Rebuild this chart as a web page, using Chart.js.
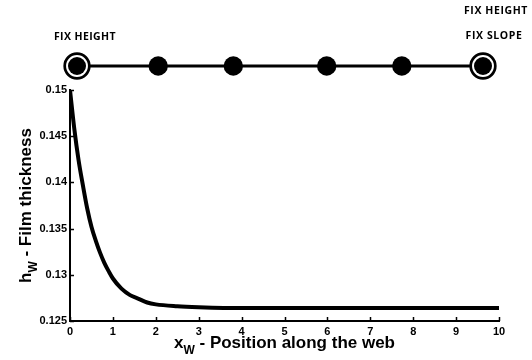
<!DOCTYPE html>
<html>
<head>
<meta charset="utf-8">
<script src="https://cdn.jsdelivr.net/npm/chart.js@4.4.1/dist/chart.umd.min.js"></script>
<style>
    body { margin: 0; background: #fff; }
    #wrap { position: relative; width: 532px; height: 360px; }
    #wrap canvas { position: absolute; left: 0; top: 0; }
</style>
</head>
<body>
<div id="wrap">
    <canvas id="filmChart" width="532" height="360"></canvas>
    <canvas id="gridChart" width="532" height="90"></canvas>
</div>
<script>
// film profile along the web
const posX = [0, 0.1, 0.2, 0.3, 0.4, 0.5, 0.6, 0.7, 0.8, 0.9, 1.0, 1.2, 1.4, 1.6, 1.8, 2.0, 2.5, 3.0, 4.0, 5.0, 6.0, 7.0, 8.0, 9.0, 10.0];
const thickness = [0.1500, 0.1458, 0.1424, 0.1397, 0.1372, 0.1352, 0.1337, 0.1324, 0.1313, 0.1304, 0.1296, 0.1285, 0.1278, 0.1274, 0.1270, 0.1268, 0.1266, 0.1265, 0.1264, 0.1264, 0.1264, 0.1264, 0.1264, 0.1264, 0.1264];

const xTicks = [0, 1, 2, 3, 4, 5, 6, 7, 8, 9, 10];
const xTickLabels = ["0", "1", "2", "3", "4", "5", "6", "7", "8", "9", "10"];
const yTicks = [0.125, 0.13, 0.135, 0.14, 0.145, 0.15];
const yTickLabels = ["0.125", "0.13", "0.135", "0.14", "0.145", "0.15"];

// collocation nodes of the schematic above the plot
const nodeX = [0, 2, 3.85, 6.15, 8, 10];
const fixedNodes = [0, 10];
const leftLabels = ["FIX HEIGHT"];
const rightLabels = ["FIX HEIGHT", "FIX SLOPE"];

const tickFont = { family: "'Liberation Sans', Arial, sans-serif", size: 11, weight: "bold" };
const titleFamily = "'Liberation Sans', Arial, sans-serif";

// text with a subscript, e.g. h_W
function drawSubText(ctx, parts, cx, cy) {
    let total = 0;
    parts.forEach(p => {
        ctx.font = "bold " + p.size + "px " + titleFamily;
        p.w = ctx.measureText(p.text).width;
        total += p.w;
    });
    let x = cx - total / 2;
    ctx.textAlign = "left";
    ctx.textBaseline = "alphabetic";
    parts.forEach(p => {
        ctx.font = "bold " + p.size + "px " + titleFamily;
        ctx.fillText(p.text, x, cy + (p.dy || 0));
        x += p.w;
    });
}

// inward tick marks and the axis titles
const axisExtras = {
    id: "axisExtras",
    afterDraw(chart) {
        let ctx = chart.ctx;
        let xs = chart.scales.x, ys = chart.scales.y;
        let area = chart.chartArea;
        ctx.save();
        ctx.strokeStyle = "#000";
        ctx.lineWidth = 1.5;
        ctx.beginPath();
        xs.ticks.forEach(t => {
            let px = Math.round(xs.getPixelForValue(t.value)) + 0.5;
            ctx.moveTo(px, area.bottom);
            ctx.lineTo(px, area.bottom - 4);
        });
        ys.ticks.forEach(t => {
            let py = Math.round(ys.getPixelForValue(t.value)) + 0.5;
            ctx.moveTo(area.left, py);
            ctx.lineTo(area.left + 4, py);
        });
        ctx.stroke();

        ctx.fillStyle = "#000";
        let cx = (area.left + area.right) / 2;
        drawSubText(ctx, [
            { text: "x", size: 17 },
            { text: "W", size: 12, dy: 6 },
            { text: " - Position along the web", size: 17 }
        ], cx, 348);

        let cy = (area.top + area.bottom) / 2;
        ctx.translate(31, cy);
        ctx.rotate(-Math.PI / 2);
        drawSubText(ctx, [
            { text: "h", size: 17 },
            { text: "W", size: 12, dy: 6 },
            { text: " - Film thickness", size: 17 }
        ], 0, 0);
        ctx.restore();
    }
};

new Chart(document.getElementById("filmChart"), {
    type: "line",
    data: {
        datasets: [{
            data: posX.map((x, i) => ({ x: x, y: thickness[i] })),
            borderColor: "#000",
            borderWidth: 4,
            pointRadius: 0,
            cubicInterpolationMode: "monotone",
            fill: false
        }]
    },
    options: {
        responsive: false,
        animation: false,
        layout: { autoPadding: false, padding: { top: 90, right: 33, left: 0, bottom: 0 } },
        plugins: { legend: { display: false }, tooltip: { enabled: false } },
        scales: {
            x: {
                type: "linear",
                min: 0,
                max: 10,
                afterBuildTicks: s => { s.ticks = xTicks.map(v => ({ value: v })); },
                afterFit: s => { s.height = 39; },
                ticks: {
                    color: "#000",
                    font: tickFont,
                    padding: 4,
                    maxRotation: 0,
                    autoSkip: false,
                    callback: (v, i) => xTickLabels[i]
                },
                grid: { display: false, drawTicks: false },
                border: { color: "#000", width: 2 }
            },
            y: {
                type: "linear",
                min: 0.125,
                max: 0.15,
                afterBuildTicks: s => { s.ticks = yTicks.map(v => ({ value: v })); },
                afterFit: s => { s.width = 70; },
                ticks: {
                    color: "#000",
                    font: tickFont,
                    padding: 3,
                    autoSkip: false,
                    callback: (v, i) => yTickLabels[i]
                },
                grid: { display: false, drawTicks: false },
                border: { color: "#000", width: 2 }
            }
        }
    },
    plugins: [axisExtras]
});

// boundary condition labels over the end nodes
const nodeLabels = {
    id: "nodeLabels",
    afterDraw(chart) {
        let ctx = chart.ctx;
        let xs = chart.scales.x, ys = chart.scales.y;
        let y0 = ys.getPixelForValue(0);
        let left = xs.getPixelForValue(nodeX[0]);
        let right = xs.getPixelForValue(nodeX[nodeX.length - 1]);
        ctx.save();
        ctx.fillStyle = "#000";
        ctx.font = "bold 10.5px 'Open Sans', sans-serif";
        ctx.textAlign = "center";
        ctx.textBaseline = "alphabetic";
        ctx.letterSpacing = "0.4px";
        ctx.fillText(leftLabels[0], left + 8, y0 - 26);
        ctx.letterSpacing = "0.6px";
        ctx.fillText(rightLabels[0], right + 13, y0 - 52);
        ctx.fillText(rightLabels[1], right + 11, y0 - 27);
        ctx.restore();
    }
};

new Chart(document.getElementById("gridChart"), {
    type: "scatter",
    data: {
        datasets: [
            {
                // solid nodes
                data: nodeX.map(x => ({ x: x, y: 0 })),
                pointRadius: c => fixedNodes.includes(nodeX[c.dataIndex]) ? 9 : 9.7,
                backgroundColor: "#000",
                borderWidth: 0,
                clip: false
            },
            {
                // rings marking the fixed ends
                data: fixedNodes.map(x => ({ x: x, y: 0 })),
                pointRadius: 12.3,
                backgroundColor: "#fff",
                borderColor: "#000",
                borderWidth: 2.7,
                clip: false
            },
            {
                data: nodeX.map(x => ({ x: x, y: 0 })),
                showLine: true,
                borderColor: "#000",
                borderWidth: 3,
                pointRadius: 0,
                clip: false
            }
        ]
    },
    options: {
        responsive: false,
        animation: false,
        layout: { autoPadding: false, padding: { top: 42, right: 49, left: 77, bottom: 0 } },
        plugins: { legend: { display: false }, tooltip: { enabled: false } },
        scales: {
            x: { type: "linear", display: false, min: 0, max: 10 },
            y: { type: "linear", display: false, min: -1, max: 1 }
        }
    },
    plugins: [nodeLabels]
});
</script>
</body>
</html>
